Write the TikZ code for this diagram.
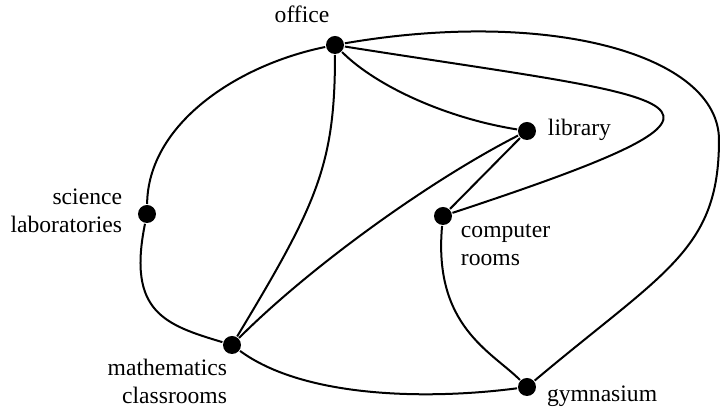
\documentclass[tikz,border=0pt]{standalone}
\usepackage{fontspec}
\setmainfont{Liberation Serif}
\begin{document}
\begin{tikzpicture}[x=0.5pt, y=-0.5pt, line width=1pt,
    dot/.style={circle, fill=black, inner sep=0pt, minimum size=9pt},
    lbl/.style={inner sep=0pt, font=\fontsize{11.8}{14}\selectfont}]
  \useasboundingbox (0,0) rectangle (720,410);
  % 1. rooms (dots) and the bend of the long outer edge
  \node[dot] (office) at (335,45) {};
  \node[dot] (library) at (527,131) {};
  \node[dot] (computer) at (443,216) {};
  \node[dot] (science) at (147,214) {};
  \node[dot] (maths) at (232,345) {};
  \node[dot] (gym) at (527,387) {};
  \coordinate (gymbend) at (719,140);

  % 2. room names (base = baseline of the last line)
  \node[lbl, anchor=base] (officelbl) at (302,22.5) {office};
  \node[lbl, anchor=base west] (librarylbl) at (547,136) {library};
  \node[lbl, anchor=base west, align=left] (computerlbl) at (460,266) {computer\\rooms};
  \node[lbl, anchor=base east, align=right] (sciencelbl) at (123,233) {science\\laboratories};
  \node[lbl, anchor=base east, align=right] (mathslbl) at (228,404) {mathematics\\classrooms};
  \node[lbl, anchor=base west] (gymlbl) at (546,402) {gymnasium};

  % 3. paths between rooms
  \draw (office) .. controls (237,65) and (148,124) .. (science);
  \draw (science) .. controls (127,312) and (165,325) .. (maths);
  \draw (office) .. controls (335,165) and (317,204) .. (maths);
  \draw (office) .. controls (377,87) and (448,118.5) .. (library);
  \draw (maths) .. controls (310,267) and (429,181) .. (library);
  \draw (library) -- (computer);
  \draw (office) .. controls (689,101) and (798,99) .. (computer); % inner loop on the right
  \draw (office) .. controls (550,8) and (719,55) .. (gymbend)
        .. controls (719,250) and (665,271) .. (gym);             % outer loop on the right
  \draw (computer) .. controls (433,326) and (491.6,351.6) .. (gym);
  \draw (maths) .. controls (304,398) and (428,400) .. (gym);
\end{tikzpicture}
\end{document}
